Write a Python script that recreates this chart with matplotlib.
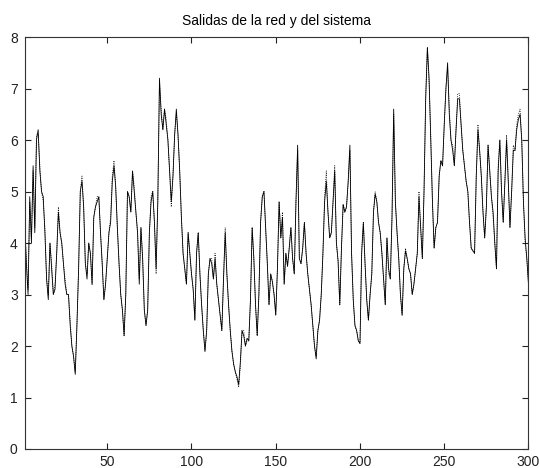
import numpy as np
import matplotlib
matplotlib.use("Agg")
import matplotlib.pyplot as plt

# salida de la red neuronal (linea continua)
y_red = [
    4.4, 3.6, 3.0, 4.9, 4.0, 5.5, 4.2, 6.0, 6.2, 5.4,
    5.0, 4.9, 4.2, 3.3, 2.9, 4.0, 3.5, 3.0, 3.1, 3.8,
    4.6, 4.2, 4.0, 3.6, 3.2, 3.0, 3.0, 2.4, 2.0, 1.8,
    1.45, 2.4, 3.5, 5.0, 5.2, 4.7, 3.6, 3.3, 4.0, 3.8,
    3.2, 4.5, 4.7, 4.8, 4.9, 4.2, 3.6, 2.9, 3.2, 3.7,
    4.2, 4.4, 5.2, 5.5, 5.1, 4.3, 3.6, 3.0, 2.7, 2.2,
    3.0, 5.0, 4.9, 4.6, 5.4, 5.0, 4.6, 4.2, 3.2, 4.3,
    3.7, 2.7, 2.4, 2.7, 4.2, 4.8, 5.0, 4.4, 3.5, 4.8,
    7.2, 6.5, 6.2, 6.6, 6.3, 6.0, 5.4, 4.8, 5.3, 6.1,
    6.6, 6.1, 5.4, 4.5, 3.8, 3.5, 3.2, 4.2, 3.8, 3.4,
    3.1, 2.5, 3.8, 4.2, 3.4, 2.8, 2.3, 1.9, 2.3, 3.4,
    3.7, 3.6, 3.3, 3.7, 3.2, 2.9, 2.6, 2.3, 3.3, 4.2,
    3.4, 2.8, 2.3, 1.9, 1.65, 1.5, 1.4, 1.25, 1.7, 2.3,
    2.2, 2.0, 2.15, 2.1, 2.9, 4.3, 3.7, 2.8, 2.2, 3.0,
    4.4, 4.9, 5.0, 4.3, 3.6, 2.8, 3.4, 3.25, 3.0, 2.6,
    3.5, 4.8, 4.1, 4.5, 3.2, 3.8, 3.55, 3.9, 4.3, 3.7,
    3.4, 4.8, 5.9, 3.7, 3.6, 3.9, 4.4, 3.8, 3.4, 3.1,
    2.8, 2.4, 2.0, 1.75, 2.3, 2.5, 3.0, 3.8, 4.8, 5.2,
    4.6, 4.1, 4.2, 4.8, 5.4, 4.0, 3.65, 2.8, 3.9, 4.75,
    4.6, 4.7, 5.2, 5.9, 3.8, 2.9, 2.4, 2.3, 2.1, 2.05,
    3.8, 4.4, 3.6, 2.9, 2.5, 3.0, 3.4, 4.6, 4.95, 4.8,
    4.4, 4.2, 3.8, 3.3, 2.8, 4.1, 3.5, 3.3, 4.5, 6.6,
    4.8, 4.2, 3.7, 3.0, 2.6, 3.5, 3.85, 3.7, 3.5, 3.4,
    3.0, 3.2, 3.5, 3.8, 4.9, 4.3, 3.7, 5.0, 6.8, 7.8,
    7.2, 6.0, 4.8, 3.9, 4.3, 4.4, 5.3, 5.6, 5.5, 6.3,
    7.0, 7.5, 6.5, 6.0, 5.8, 5.5, 6.2, 6.8, 6.8, 6.3,
    5.8, 5.5, 5.2, 5.0, 4.4, 3.9, 3.85, 3.8, 5.3, 6.2,
    5.8, 5.3, 4.6, 4.1, 4.7, 5.9, 5.4, 4.9, 4.6, 4.0,
    3.5, 5.4, 6.0, 5.0, 4.4, 5.2, 6.0, 5.2, 4.3, 5.0,
    5.8, 5.8, 6.2, 6.4, 6.5, 6.0, 4.8, 4.1, 3.7, 3.2,
]

# salida del sistema real (linea punteada)
y_sistema = [
    4.3, 3.7, 3.1, 4.8, 4.1, 5.4, 4.3, 6.1, 6.1, 5.5,
    5.0, 4.8, 4.3, 3.3, 3.0, 4.0, 3.6, 3.0, 3.2, 3.8,
    4.7, 4.2, 4.0, 3.6, 3.3, 3.0, 3.0, 2.5, 2.0, 1.8,
    1.5, 2.4, 3.5, 5.0, 5.3, 4.7, 3.6, 3.4, 4.0, 3.8,
    3.2, 4.5, 4.7, 4.9, 4.9, 4.2, 3.6, 2.9, 3.2, 3.7,
    4.2, 4.5, 5.3, 5.6, 5.1, 4.3, 3.6, 3.0, 2.7, 2.2,
    3.0, 5.0, 4.9, 4.6, 5.4, 5.1, 4.6, 4.2, 3.3, 4.3,
    3.7, 2.7, 2.4, 2.7, 4.2, 4.9, 5.0, 4.4, 3.4, 4.8,
    7.1, 6.6, 6.2, 6.6, 6.4, 6.0, 5.4, 4.7, 5.3, 6.1,
    6.5, 6.1, 5.4, 4.5, 3.8, 3.5, 3.2, 4.2, 3.8, 3.4,
    3.1, 2.5, 3.8, 4.2, 3.4, 2.8, 2.3, 1.9, 2.3, 3.4,
    3.7, 3.7, 3.3, 3.8, 3.2, 2.9, 2.6, 2.3, 3.3, 4.3,
    3.4, 2.8, 2.3, 1.9, 1.65, 1.5, 1.35, 1.2, 1.6, 2.3,
    2.3, 2.0, 2.1, 2.1, 2.9, 4.3, 3.7, 2.8, 2.2, 3.0,
    4.4, 4.9, 5.0, 4.3, 3.6, 2.8, 3.4, 3.25, 3.0, 2.6,
    3.5, 4.8, 4.1, 4.6, 3.2, 3.8, 3.55, 3.9, 4.3, 3.7,
    3.4, 4.8, 5.8, 3.7, 3.6, 3.9, 4.4, 3.8, 3.4, 3.1,
    2.8, 2.4, 2.0, 1.8, 2.3, 2.5, 3.0, 3.8, 4.9, 5.4,
    4.6, 4.1, 4.2, 4.8, 5.5, 4.0, 3.65, 2.8, 3.9, 4.75,
    4.6, 4.7, 5.2, 5.8, 3.8, 2.9, 2.4, 2.3, 2.1, 2.05,
    3.9, 4.4, 3.6, 2.9, 2.5, 3.0, 3.4, 4.6, 5.0, 4.8,
    4.4, 4.2, 3.8, 3.3, 2.8, 4.1, 3.4, 3.3, 4.5, 6.5,
    4.8, 4.2, 3.7, 3.0, 2.6, 3.5, 3.9, 3.7, 3.5, 3.4,
    3.0, 3.2, 3.5, 3.8, 5.0, 4.3, 3.7, 5.0, 6.9, 7.8,
    7.1, 6.1, 4.8, 3.9, 4.3, 4.4, 5.3, 5.6, 5.5, 6.3,
    7.0, 7.4, 6.6, 6.0, 5.9, 5.5, 6.2, 6.9, 6.9, 6.3,
    5.8, 5.5, 5.2, 5.0, 4.4, 3.9, 3.85, 3.8, 5.3, 6.3,
    5.8, 5.3, 4.6, 4.1, 4.7, 5.9, 5.4, 4.9, 4.5, 4.0,
    3.5, 5.5, 6.0, 5.0, 4.4, 5.2, 6.1, 5.2, 4.3, 5.0,
    5.9, 5.8, 6.3, 6.5, 6.6, 6.0, 4.8, 4.0, 3.7, 3.2,
]

muestras = np.arange(1, len(y_red) + 1)

xticks = [50, 100, 150, 200, 250, 300]
yticks = [0, 1, 2, 3, 4, 5, 6, 7, 8]

plt.rcParams['font.family'] = ['Liberation Sans', 'DejaVu Sans']

fig = plt.figure(figsize=(5.39, 4.68), dpi=100)
ax = fig.add_axes([0.0458, 0.0406, 0.9347, 0.8803])

ax.plot(muestras, y_red, color='k', linewidth=0.6)
ax.plot(muestras, y_sistema, color='k', linestyle=':', linewidth=0.6)

ax.set_xlim(1, 300)
ax.set_ylim(0, 8)
ax.set_xticks(xticks)
ax.set_yticks(yticks)
ax.tick_params(axis='both', direction='in', length=4, width=0.8, labelsize=10,
               top=True, right=True, colors='#222222')
ax.tick_params(axis='x', pad=4)
ax.tick_params(axis='y', pad=5)
for s in ax.spines.values():
    s.set_linewidth(0.8)
    s.set_color('#333333')

ax.set_title("Salidas de la red y del sistema", fontsize=10, pad=9)

fig.savefig("out.png", dpi=100)
